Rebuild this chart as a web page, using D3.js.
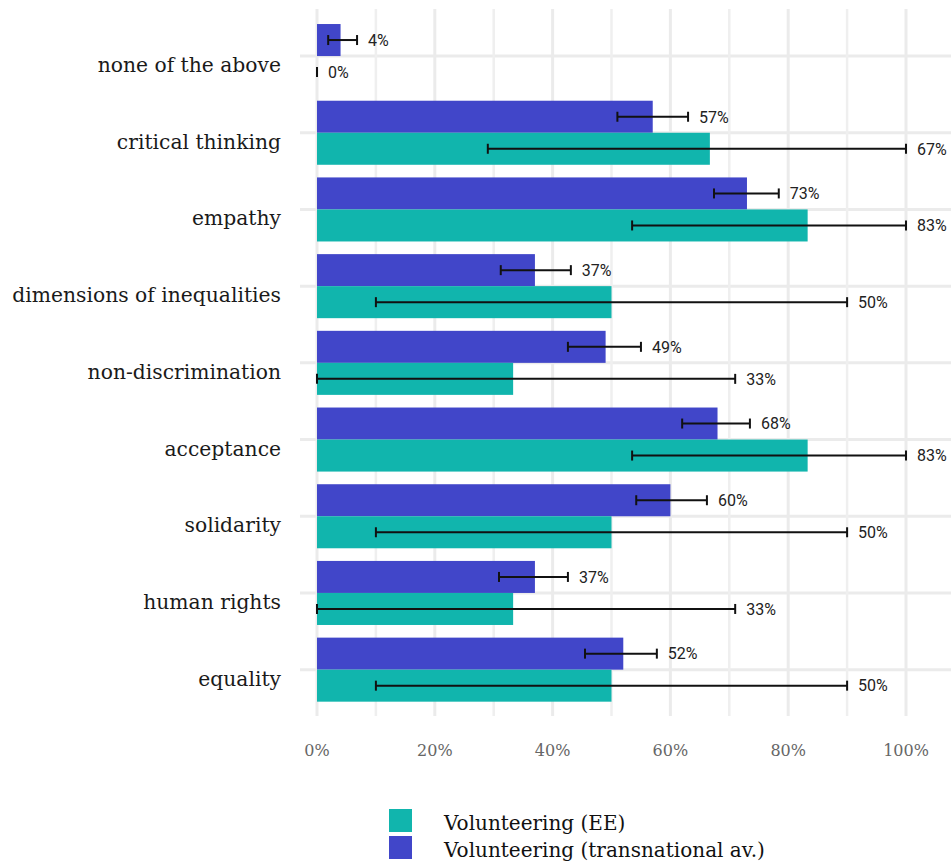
<!DOCTYPE html>
<html><head><meta charset="utf-8">
<script src="https://cdn.jsdelivr.net/npm/d3@7"></script>
<style>
html,body{margin:0;padding:0;background:#fff;}
svg{display:block;}
</style></head>
<body>
<svg id="chart" width="951" height="864"></svg>
<script>
// ---- data ----
const categories = ["none of the above","critical thinking","empathy","dimensions of inequalities","non-discrimination","acceptance","solidarity","human rights","equality"];
const series = ["Volunteering (transnational av.)","Volunteering (EE)"];
const transValues = [0.04,0.57,0.73,0.37,0.49,0.68,0.60,0.37,0.52];
const transLow    = [0.019,0.51,0.674,0.312,0.426,0.62,0.542,0.309,0.455];
const transHigh   = [0.068,0.63,0.784,0.431,0.55,0.735,0.662,0.426,0.577];
const eeValues    = [0.00,0.667,0.833,0.50,0.333,0.833,0.50,0.333,0.50];
const eeLow       = [0.00,0.29,0.535,0.10,0.00,0.535,0.10,0.00,0.10];
const eeHigh      = [0.00,1.00,1.00,0.90,0.71,1.00,0.90,0.71,0.90];
const xTicks = [0,0.2,0.4,0.6,0.8,1.0];
const xMinorTicks = [0.1,0.3,0.5,0.7,0.9];
const legendLabels = ["Volunteering (EE)","Volunteering (transnational av.)"];
const colors = {"Volunteering (transnational av.)":"#4146c9","Volunteering (EE)":"#11b5ad"};

const svg = d3.select("#chart");
const x = d3.scaleLinear().domain([0,1]).range([317,906]);
const y = d3.scaleBand().domain(categories).range([17.7,708]).padding(0);
const groupW = y.bandwidth()*0.835;
const y1 = d3.scaleBand().domain(series).range([-groupW/2, groupW/2]).padding(0);

const rows = categories.map((c,i)=>({cat:c, vals:[
  {s:series[0], v:transValues[i], lo:transLow[i], hi:transHigh[i]},
  {s:series[1], v:eeValues[i], lo:eeLow[i], hi:eeHigh[i]}
]}));

// grid
const grid = svg.append("g");
grid.selectAll(".hg").data(categories).join("line")
  .attr("x1",300).attr("x2",951)
  .attr("y1",d=>y(d)+y.bandwidth()/2).attr("y2",d=>y(d)+y.bandwidth()/2)
  .attr("stroke","#ebebeb").attr("stroke-width",3);
grid.selectAll(".vmin").data(xMinorTicks).join("line")
  .attr("x1",d=>x(d)).attr("x2",d=>x(d)).attr("y1",9).attr("y2",716)
  .attr("stroke","#efefef").attr("stroke-width",2.5);
grid.selectAll(".vmaj").data(xTicks).join("line")
  .attr("x1",d=>x(d)).attr("x2",d=>x(d)).attr("y1",9).attr("y2",716)
  .attr("stroke","#ebebeb").attr("stroke-width",3);

// bars
const g = svg.append("g");
const grp = g.selectAll(".grp").data(rows).join("g")
  .attr("transform",d=>`translate(0,${y(d.cat)+y.bandwidth()/2})`);
grp.selectAll("rect").data(d=>d.vals).join("rect")
  .attr("x",x(0)).attr("y",d=>y1(d.s))
  .attr("width",d=>x(d.v)-x(0)).attr("height",y1.bandwidth())
  .attr("fill",d=>colors[d.s]);

// error bars
const capH = 10;
const eb = grp.selectAll(".eb").data(d=>d.vals).join("g")
  .attr("transform",d=>`translate(0,${y1(d.s)+y1.bandwidth()/2})`);
eb.append("line").attr("x1",d=>x(d.lo)).attr("x2",d=>x(d.hi)).attr("y1",0).attr("y2",0)
  .attr("stroke","#111").attr("stroke-width",2);
eb.append("line").attr("x1",d=>x(d.lo)).attr("x2",d=>x(d.lo)).attr("y1",-capH/2).attr("y2",capH/2)
  .attr("stroke","#111").attr("stroke-width",2);
eb.append("line").attr("x1",d=>x(d.hi)).attr("x2",d=>x(d.hi)).attr("y1",-capH/2).attr("y2",capH/2)
  .attr("stroke","#111").attr("stroke-width",2);
eb.append("text").attr("x",d=>x(d.hi)+11).attr("y",0).attr("dy","0.36em")
  .attr("font-family","Roboto, sans-serif").attr("font-size",16).attr("fill","#222")
  .text(d=>Math.round(d.v*100)+"%");

// y axis labels
svg.append("g").selectAll("text").data(categories).join("text")
  .attr("x",281).attr("y",d=>y(d)+y.bandwidth()/2+16)
  .attr("text-anchor","end")
  .attr("font-family","'DejaVu Serif', serif").attr("font-size",20.3).attr("fill","#1a1a1a")
  .text(d=>d);

// x axis labels
svg.append("g").selectAll("text").data(xTicks).join("text")
  .attr("x",d=>x(d)).attr("y",756).attr("text-anchor","middle")
  .attr("font-family","'DejaVu Serif', serif").attr("font-size",16).attr("fill","#666")
  .text(d=>d3.format(".0%")(d));

// legend
const leg = svg.append("g");
legendLabels.forEach((l,i)=>{
  leg.append("rect").attr("x",389).attr("y",809+i*27).attr("width",23).attr("height",23).attr("fill",colors[l]);
  leg.append("text").attr("x",444).attr("y",830+i*27)
    .attr("font-family","'DejaVu Serif', serif").attr("font-size",20).attr("fill","#111").text(l);
});
</script>
</body></html>
